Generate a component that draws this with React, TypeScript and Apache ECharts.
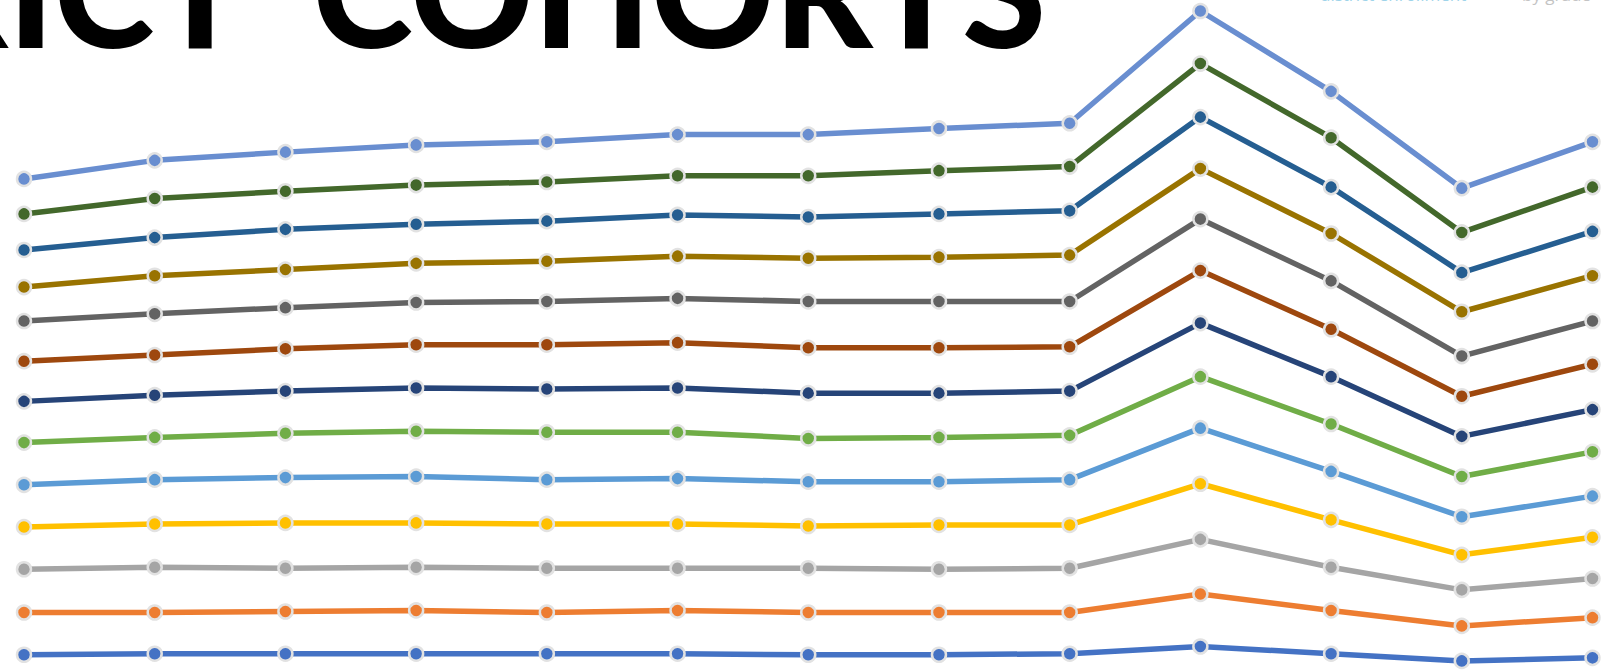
import React, { useEffect, useRef } from "react";
import * as echarts from "echarts";

// School years (x categories, axis hidden in the reference)
const years = [
  "2007", "2008", "2009", "2010", "2011", "2012", "2013",
  "2014", "2015", "2016", "2017", "2018", "2019",
];

// Cohort (grade) names, bottom of the stack first
const grades = ["K", "1", "2", "3", "4", "5", "6", "7", "8", "9", "10", "11", "12"];

// Enrollment per grade, per year (stacked)
const gradeK = [420, 430, 430, 430, 430, 430, 420, 420, 430, 500, 430, 360, 390];
const grade1 = [410, 400, 410, 420, 400, 420, 410, 410, 400, 510, 420, 340, 390];
const grade2 = [420, 440, 420, 420, 430, 410, 430, 420, 430, 530, 420, 350, 380];
const grade3 = [410, 420, 440, 430, 430, 430, 410, 430, 420, 540, 460, 340, 400];
const grade4 = [410, 430, 440, 450, 430, 440, 430, 420, 440, 540, 470, 370, 400];
const grade5 = [410, 410, 430, 440, 460, 450, 420, 430, 430, 500, 460, 390, 430];
const grade6 = [400, 410, 410, 420, 420, 430, 440, 430, 430, 520, 460, 390, 410];
const grade7 = [390, 390, 410, 420, 430, 440, 440, 440, 430, 510, 460, 390, 440];
const grade8 = [390, 400, 400, 410, 420, 430, 450, 450, 440, 500, 470, 390, 420];
const grade9 = [330, 370, 370, 380, 390, 410, 420, 430, 450, 490, 460, 430, 440];
const grade10 = [360, 370, 390, 380, 390, 400, 400, 420, 430, 500, 450, 380, 430];
const grade11 = [350, 380, 370, 380, 380, 380, 400, 420, 430, 520, 480, 390, 430];
const grade12 = [340, 370, 380, 390, 390, 400, 400, 410, 420, 510, 450, 430, 440];

const seriesValues = [
  gradeK, grade1, grade2, grade3, grade4, grade5, grade6,
  grade7, grade8, grade9, grade10, grade11, grade12,
];

const colors = [
  "#4472C4", "#ED7D31", "#A5A5A5", "#FFC000", "#5B9BD5", "#70AD47", "#264478",
  "#9E480E", "#636363", "#997300", "#255E91", "#43682B", "#698ED0",
];

const titleWord1 = "DISTRICT";
const titleWord2 = "COHORTS";

export default function App() {
  const ref = useRef<HTMLDivElement>(null);

  useEffect(() => {
    if (!ref.current) return;
    const chart = echarts.init(ref.current, null, { renderer: "svg" });
    const titleStyle = {
      font: "900 152px Lato",
      fill: "#000000",
      textAlign: "right",
      align: "right",
      textVerticalAlign: "middle",
      verticalAlign: "middle",
    };
    chart.setOption({
      animation: false,
      backgroundColor: "#ffffff",
      grid: { left: 24, right: 22.5, top: 0, bottom: 22 },
      xAxis: {
        type: "category",
        data: years,
        boundaryGap: false,
        show: false,
      },
      yAxis: {
        type: "value",
        min: 0,
        max: 6777,
        show: false,
        splitLine: { show: false },
      },
      series: seriesValues.map((vals, i) => ({
        name: grades[i],
        type: "line",
        stack: "total",
        data: vals,
        symbol: "circle",
        symbolSize: 14,
        showAllSymbol: true,
        clip: false,
        lineStyle: { color: colors[i], width: 5.5 },
        itemStyle: { color: colors[i], borderColor: "#e2e2e2", borderWidth: 2.5 },
        emphasis: { disabled: true },
        z: 2 + i,
      })),
      graphic: [
        {
          type: "text",
          x: 246,
          y: -11,
          style: { ...titleStyle, text: titleWord1 },
        },
        {
          type: "text",
          x: 1046,
          y: -11,
          style: { ...titleStyle, text: titleWord2 },
        },
        {
          type: "text",
          x: 1320,
          y: -6,
          style: {
            text: "district enrollment",
            font: "17px 'Open Sans'",
            fill: "#9fd4ea",
            textAlign: "left",
            align: "left",
            textVerticalAlign: "middle",
            verticalAlign: "middle",
          },
        },
        {
          type: "text",
          x: 1522,
          y: -6,
          style: {
            text: "by grade",
            font: "17px 'Open Sans'",
            fill: "#c4c4c4",
            textAlign: "left",
            align: "left",
            textVerticalAlign: "middle",
            verticalAlign: "middle",
          },
        },
      ],
    });
    return () => chart.dispose();
  }, []);

  return (
    <div
      style={{
        position: "fixed",
        left: 0,
        top: 0,
        width: 1615,
        height: 672,
        overflow: "hidden",
        background: "#ffffff",
      }}
    >
      <div ref={ref} style={{ width: 1615, height: 720 }} />
    </div>
  );
}
